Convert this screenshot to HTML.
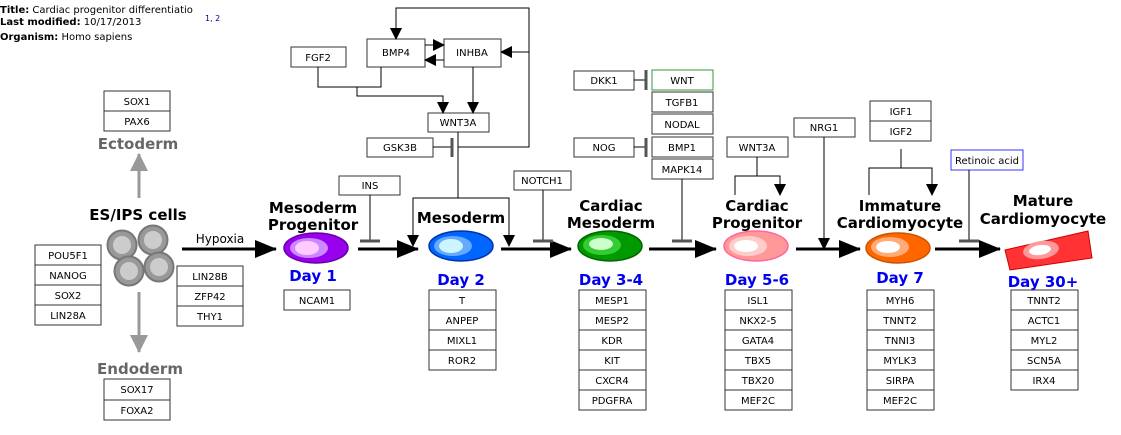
<!DOCTYPE html>
<html><head><meta charset="utf-8"><style>
html,body{margin:0;padding:0;background:#fff;}
svg{display:block;font-family:"DejaVu Sans","Liberation Sans",sans-serif;}
.b{fill:#fff;stroke:#333;stroke-width:1;}
.t{font-size:10px;text-anchor:middle;fill:#000;}
.h{font-size:15px;font-weight:bold;text-anchor:middle;fill:#000;}
.d{font-size:15px;font-weight:bold;text-anchor:middle;fill:#0000ee;}
.l{stroke:#000;stroke-width:1;fill:none;}
.k{stroke:#000;stroke-width:3;fill:none;}
.ib{stroke:#555;stroke-width:3;}
</style></head><body>
<svg width="1121" height="435" viewBox="0 0 1121 435" xmlns="http://www.w3.org/2000/svg">
<defs>
<marker id="a" markerWidth="12" markerHeight="12" refX="11" refY="6" orient="auto" markerUnits="userSpaceOnUse"><path d="M0,0 L12,6 L0,12z" fill="#000"/></marker>
<marker id="A" markerWidth="22" markerHeight="18" refX="21" refY="9" orient="auto" markerUnits="userSpaceOnUse"><path d="M0,0 L22,9 L0,18z" fill="#000"/></marker>
<marker id="g" markerWidth="18" markerHeight="20" refX="17" refY="9" orient="auto" markerUnits="userSpaceOnUse"><path d="M0,0 L18,9 L0,18z" fill="#999"/></marker>
</defs>
<!-- header -->
<text x="0" y="13" font-size="10"><tspan font-weight="bold">Title:</tspan>  Cardiac progenitor differentiatio</text>
<text x="0" y="25" font-size="10"><tspan font-weight="bold">Last modified:</tspan>  10/17/2013</text>
<text x="0" y="40" font-size="10"><tspan font-weight="bold">Organism:</tspan>  Homo sapiens</text>
<text x="205" y="21" font-size="8" fill="#00008b">1, 2</text>

<!-- Ectoderm / Endoderm -->
<rect class="b" x="104" y="91" width="66" height="20"/><text class="t" x="137" y="105">SOX1</text>
<rect class="b" x="104" y="111" width="66" height="20"/><text class="t" x="137" y="125">PAX6</text>
<text x="138" y="149" font-size="15" font-weight="bold" fill="#666" text-anchor="middle">Ectoderm</text>
<line x1="139" y1="198" x2="139" y2="154" stroke="#999" stroke-width="3" marker-end="url(#g)"/>
<line x1="139" y1="292" x2="139" y2="352" stroke="#999" stroke-width="3" marker-end="url(#g)"/>
<text x="140" y="374" font-size="15" font-weight="bold" fill="#666" text-anchor="middle">Endoderm</text>
<rect class="b" x="104" y="379" width="66" height="21"/><text class="t" x="137" y="393">SOX17</text>
<rect class="b" x="104" y="400" width="66" height="20"/><text class="t" x="137" y="414">FOXA2</text>

<text class="h" x="138" y="220">ES/IPS cells</text>
<g stroke="#777" stroke-width="2" fill="#999">
<circle cx="122" cy="245" r="14.5"/><circle cx="153" cy="240" r="14.5"/><circle cx="129" cy="271" r="14.5"/><circle cx="159" cy="267" r="14.5"/>
</g>
<g fill="#ccc"><circle cx="122" cy="245" r="9"/><circle cx="153" cy="240" r="9"/><circle cx="129" cy="271" r="9"/><circle cx="159" cy="267" r="9"/></g>

<g>
<rect class="b" x="35" y="245" width="66" height="20"/><text class="t" x="68" y="259">POU5F1</text>
<rect class="b" x="35" y="265" width="66" height="20"/><text class="t" x="68" y="279">NANOG</text>
<rect class="b" x="35" y="285" width="66" height="20"/><text class="t" x="68" y="299">SOX2</text>
<rect class="b" x="35" y="305" width="66" height="20"/><text class="t" x="68" y="319">LIN28A</text>
<rect class="b" x="177" y="266" width="66" height="20"/><text class="t" x="210" y="280">LIN28B</text>
<rect class="b" x="177" y="286" width="66" height="20"/><text class="t" x="210" y="300">ZFP42</text>
<rect class="b" x="177" y="306" width="66" height="20"/><text class="t" x="210" y="320">THY1</text>
</g>
<text x="220" y="243" font-size="12" text-anchor="middle">Hypoxia</text>
<line class="k" x1="182" y1="249" x2="276" y2="249" marker-end="url(#A)"/>

<!-- Mesoderm progenitor -->
<text class="h" x="313" y="213">Mesoderm</text><text class="h" x="313" y="230">Progenitor</text>
<ellipse cx="316" cy="248" rx="32" ry="15" fill="#9900ee" stroke="#6600aa" stroke-width="1.5"/>
<ellipse cx="309" cy="248" rx="19" ry="10" fill="#cc88ff"/><ellipse cx="307" cy="248" rx="12" ry="7" fill="#ffccff"/>
<text class="d" x="313" y="281">Day 1</text>
<rect class="b" x="284" y="290" width="66" height="20"/><text class="t" x="317" y="304">NCAM1</text>
<line class="k" x1="358" y1="249" x2="418" y2="249" marker-end="url(#A)"/>

<!-- Mesoderm -->
<text class="h" x="461" y="223">Mesoderm</text>
<ellipse cx="461" cy="246" rx="32" ry="15" fill="#0066ff" stroke="#0033aa" stroke-width="1.5"/>
<ellipse cx="453" cy="246" rx="19" ry="10" fill="#66aaff"/><ellipse cx="451" cy="246" rx="12" ry="7" fill="#ccf5ff"/>
<text class="d" x="461" y="285">Day 2</text>
<g>
<rect class="b" x="429" y="290" width="67" height="20"/><text class="t" x="462" y="304">T</text>
<rect class="b" x="429" y="310" width="67" height="20"/><text class="t" x="462" y="324">ANPEP</text>
<rect class="b" x="429" y="330" width="67" height="20"/><text class="t" x="462" y="344">MIXL1</text>
<rect class="b" x="429" y="350" width="67" height="20"/><text class="t" x="462" y="364">ROR2</text>
</g>
<line class="k" x1="501" y1="249" x2="571" y2="249" marker-end="url(#A)"/>

<!-- Cardiac mesoderm -->
<text class="h" x="611" y="211">Cardiac</text><text class="h" x="611" y="228">Mesoderm</text>
<ellipse cx="610" cy="246" rx="32" ry="15" fill="#009900" stroke="#006600" stroke-width="1.5"/>
<ellipse cx="602" cy="245" rx="19" ry="10" fill="#33cc33"/><ellipse cx="601" cy="244" rx="12" ry="6" fill="#ccffcc"/>
<text class="d" x="611" y="285">Day 3-4</text>
<g>
<rect class="b" x="579" y="290" width="67" height="20"/><text class="t" x="612" y="304">MESP1</text>
<rect class="b" x="579" y="310" width="67" height="20"/><text class="t" x="612" y="324">MESP2</text>
<rect class="b" x="579" y="330" width="67" height="20"/><text class="t" x="612" y="344">KDR</text>
<rect class="b" x="579" y="350" width="67" height="20"/><text class="t" x="612" y="364">KIT</text>
<rect class="b" x="579" y="370" width="67" height="20"/><text class="t" x="612" y="384">CXCR4</text>
<rect class="b" x="579" y="390" width="67" height="20"/><text class="t" x="612" y="404">PDGFRA</text>
</g>
<line class="k" x1="649" y1="249" x2="716" y2="249" marker-end="url(#A)"/>

<!-- Cardiac progenitor -->
<text class="h" x="757" y="211">Cardiac</text><text class="h" x="757" y="228">Progenitor</text>
<ellipse cx="756" cy="246" rx="32" ry="15" fill="#ff9999" stroke="#ff6699" stroke-width="1.5"/>
<ellipse cx="748" cy="246" rx="19" ry="10" fill="#ffcccc"/><ellipse cx="746" cy="246" rx="12" ry="6" fill="#fff"/>
<text class="d" x="757" y="285">Day 5-6</text>
<g>
<rect class="b" x="725" y="290" width="67" height="20"/><text class="t" x="758" y="304">ISL1</text>
<rect class="b" x="725" y="310" width="67" height="20"/><text class="t" x="758" y="324">NKX2-5</text>
<rect class="b" x="725" y="330" width="67" height="20"/><text class="t" x="758" y="344">GATA4</text>
<rect class="b" x="725" y="350" width="67" height="20"/><text class="t" x="758" y="364">TBX5</text>
<rect class="b" x="725" y="370" width="67" height="20"/><text class="t" x="758" y="384">TBX20</text>
<rect class="b" x="725" y="390" width="67" height="20"/><text class="t" x="758" y="404">MEF2C</text>
</g>
<line class="k" x1="796" y1="249" x2="860" y2="249" marker-end="url(#A)"/>

<!-- Immature -->
<text class="h" x="900" y="211">Immature</text><text class="h" x="900" y="228">Cardiomyocyte</text>
<ellipse cx="898" cy="248" rx="32" ry="15" fill="#ff6600" stroke="#cc5500" stroke-width="1.5"/>
<ellipse cx="890" cy="247" rx="19" ry="10" fill="#ffaa77"/><ellipse cx="888" cy="247" rx="12" ry="6" fill="#fff"/>
<text class="d" x="900" y="283">Day 7</text>
<g>
<rect class="b" x="867" y="290" width="67" height="20"/><text class="t" x="900" y="304">MYH6</text>
<rect class="b" x="867" y="310" width="67" height="20"/><text class="t" x="900" y="324">TNNT2</text>
<rect class="b" x="867" y="330" width="67" height="20"/><text class="t" x="900" y="344">TNNI3</text>
<rect class="b" x="867" y="350" width="67" height="20"/><text class="t" x="900" y="364">MYLK3</text>
<rect class="b" x="867" y="370" width="67" height="20"/><text class="t" x="900" y="384">SIRPA</text>
<rect class="b" x="867" y="390" width="67" height="20"/><text class="t" x="900" y="404">MEF2C</text>
</g>
<line class="k" x1="935" y1="249" x2="1000" y2="249" marker-end="url(#A)"/>

<!-- Mature -->
<text class="h" x="1043" y="206">Mature</text><text class="h" x="1043" y="224">Cardiomyocyte</text>
<polygon points="1005,250 1088,231 1092,258 1010,270" fill="#ff3333" stroke="#cc0000" stroke-width="1"/>
<ellipse cx="1041" cy="250" rx="18" ry="9" fill="#ff9999" transform="rotate(-8 1041 250)"/>
<ellipse cx="1040" cy="250" rx="11" ry="5" fill="#fff" transform="rotate(-8 1040 250)"/>
<text class="d" x="1043" y="287">Day 30+</text>
<g>
<rect class="b" x="1011" y="290" width="67" height="20"/><text class="t" x="1044" y="304">TNNT2</text>
<rect class="b" x="1011" y="310" width="67" height="20"/><text class="t" x="1044" y="324">ACTC1</text>
<rect class="b" x="1011" y="330" width="67" height="20"/><text class="t" x="1044" y="344">MYL2</text>
<rect class="b" x="1011" y="350" width="67" height="20"/><text class="t" x="1044" y="364">SCN5A</text>
<rect class="b" x="1011" y="370" width="67" height="20"/><text class="t" x="1044" y="384">IRX4</text>
</g>

<!-- upper network -->
<rect class="b" x="291" y="47" width="55" height="20"/><text class="t" x="318" y="61">FGF2</text>
<rect class="b" x="367" y="39" width="58" height="28"/><text class="t" x="396" y="56">BMP4</text>
<rect class="b" x="444" y="39" width="57" height="28"/><text class="t" x="472" y="56">INHBA</text>
<rect class="b" x="428" y="113" width="61" height="19"/><text class="t" x="458" y="126">WNT3A</text>
<rect class="b" x="367" y="138" width="66" height="19"/><text class="t" x="400" y="151">GSK3B</text>
<rect class="b" x="339" y="176" width="61" height="19"/><text class="t" x="370" y="189">INS</text>
<rect class="b" x="514" y="171" width="57" height="19"/><text class="t" x="542" y="184">NOTCH1</text>

<path class="l" d="M458,147 H529 V8 H396 V39" marker-end="url(#a)"/>
<path class="l" d="M529,52 H501" marker-end="url(#a)"/>
<path class="l" d="M425,45 H444" marker-end="url(#a)"/>
<path class="l" d="M444,60 H425" marker-end="url(#a)"/>
<path class="l" d="M473,67 V113" marker-end="url(#a)"/>
<path class="l" d="M318,67 V87 H381 V67"/>
<path class="l" d="M357,87 V96 H443 V113" marker-end="url(#a)"/>
<path class="l" d="M433,147 H452"/><line class="ib" x1="452" y1="138" x2="452" y2="157"/>
<path class="l" d="M458,132 V198"/>
<path class="l" d="M413,246 V198 H509 V246" />
<path class="l" d="M413,230 V246" marker-end="url(#a)"/>
<path class="l" d="M509,230 V246" marker-end="url(#a)"/>
<path class="l" d="M370,195 V241"/><line class="ib" x1="360" y1="241" x2="380" y2="241"/>
<path class="l" d="M543,190 V241"/><line class="ib" x1="533" y1="241" x2="553" y2="241"/>

<!-- cardiac mesoderm regulators -->
<rect class="b" x="574" y="71" width="60" height="19"/><text class="t" x="604" y="84">DKK1</text>
<rect x="652" y="70" width="61" height="20" fill="#fff" stroke="#339933"/><text class="t" x="682" y="84" fill="#006600">WNT</text>
<rect class="b" x="652" y="92" width="61" height="20"/><text class="t" x="682" y="106">TGFB1</text>
<rect class="b" x="652" y="114" width="61" height="20"/><text class="t" x="682" y="128">NODAL</text>
<rect class="b" x="652" y="137" width="61" height="20"/><text class="t" x="682" y="151">BMP1</text>
<rect class="b" x="652" y="159" width="61" height="20"/><text class="t" x="682" y="173">MAPK14</text>
<rect class="b" x="574" y="138" width="60" height="19"/><text class="t" x="604" y="151">NOG</text>
<path class="l" d="M634,80 H646"/><line class="ib" x1="646" y1="70" x2="646" y2="90"/>
<path class="l" d="M634,147 H646"/><line class="ib" x1="646" y1="138" x2="646" y2="157"/>
<path class="l" d="M682,179 V241"/><line class="ib" x1="672" y1="241" x2="692" y2="241"/>

<rect class="b" x="727" y="137" width="61" height="20"/><text class="t" x="757" y="151">WNT3A</text>
<path class="l" d="M757,157 V176 H735 V195 M757,176 H780 V195"/>
<path class="l" d="M780,185 V195" marker-end="url(#a)"/>
<rect class="b" x="794" y="118" width="61" height="19"/><text class="t" x="824" y="131">NRG1</text>
<path class="l" d="M824,137 V249" marker-end="url(#a)"/>

<rect class="b" x="870" y="101" width="61" height="20"/><text class="t" x="901" y="115">IGF1</text>
<rect class="b" x="870" y="121" width="61" height="20"/><text class="t" x="901" y="135">IGF2</text>
<path class="l" d="M901,149 V168 H869 V195 M901,168 H932 V195"/>
<path class="l" d="M932,185 V195" marker-end="url(#a)"/>
<rect x="951" y="150" width="72" height="20" fill="#fff" stroke="#3333ff"/><text class="t" x="987" y="164" fill="#3333ff">Retinoic acid</text>
<path class="l" d="M969,170 V241"/><line class="ib" x1="959" y1="241" x2="979" y2="241"/>
</svg>
</body></html>
